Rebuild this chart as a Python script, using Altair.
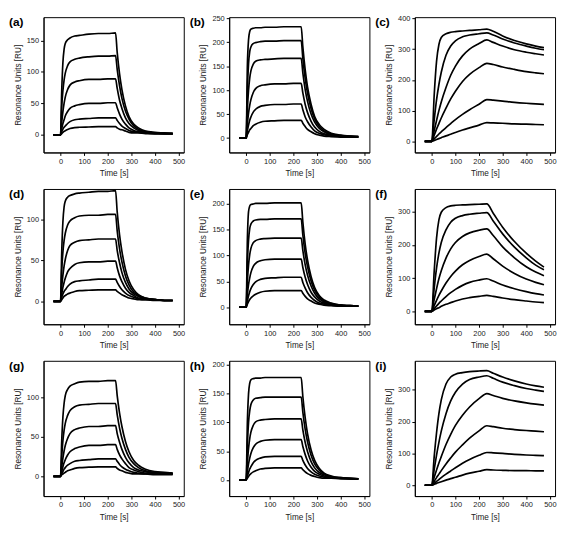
import altair as alt
import pandas as pd

FONT = "Liberation Sans"

# time grids (s)
T_FAST = [-30, 0, 5, 10, 15, 20, 30, 40, 60, 80, 120, 160, 200, 233,
          240, 250, 260, 275, 290, 310, 330, 360, 400, 440, 475]
T_SLOW = [-30, 0, 10, 20, 30, 40, 60, 80, 100, 130, 160, 200, 233,
          260, 300, 350, 400, 440, 475]

X_TICKS = [0, 100, 200, 300, 400, 500]
X_DOMAIN = [-72, 522]

# Resonance units, one list per curve
PANEL_A = [
    [0, 0, 70, 115, 136, 145, 151, 154, 157, 158, 160, 161, 161, 162, 131, 97, 72, 46, 29, 17, 11, 6, 4, 3, 2],
    [0, 0, 45, 70, 87, 98, 110, 116, 120, 122, 124, 125, 125, 126, 104, 78, 58, 38, 25, 14, 9, 5, 3, 2, 2],
    [0, 0, 20, 37, 50, 60, 72, 79, 84, 86, 88, 88, 89, 89, 74, 55, 42, 27, 18, 11, 7, 4, 3, 2, 2],
    [0, 0, 10, 18, 24, 30, 37, 42, 46, 48, 50, 50, 51, 51, 43, 33, 25, 17, 11, 7, 5, 3, 2, 2, 2],
    [0, 0, 5, 9, 12, 14, 18, 21, 24, 25, 26, 27, 27, 27, 23, 18, 14, 10, 7, 5, 4, 3, 2, 2, 2],
    [0, 0, 2, 4, 5.5, 6.5, 8.5, 10, 11.5, 12, 12.5, 13, 13, 13, 11, 9, 8, 6, 4, 3, 3, 2, 2, 2, 2],
]
PANEL_B = [
    [0, 0, 150, 205, 222, 227, 229, 230, 230, 231, 231, 232, 232, 232, 190, 142, 106, 70, 45, 28, 18, 10, 6, 4, 3],
    [0, 0, 100, 155, 180, 190, 197, 199, 201, 202, 202, 203, 203, 203, 166, 124, 93, 61, 40, 24, 15, 9, 5, 4, 3],
    [0, 0, 60, 100, 125, 140, 154, 160, 163, 164, 165, 166, 166, 166, 136, 101, 76, 50, 33, 20, 13, 7, 5, 3, 3],
    [0, 0, 30, 52, 68, 80, 95, 103, 109, 111, 113, 113, 114, 114, 94, 70, 53, 35, 23, 14, 9, 6, 4, 3, 2],
    [0, 0, 15, 27, 37, 44, 54, 60, 66, 68, 70, 70, 71, 71, 59, 44, 34, 23, 15, 10, 7, 4, 3, 2, 2],
    [0, 0, 7, 12, 17, 20, 26, 29, 33, 35, 36, 37, 37, 37, 31, 24, 18, 13, 9, 6, 4, 3, 2, 2, 2],
]
PANEL_C = [
    [0, 0, 150, 260, 315, 338, 350, 355, 357, 359, 361, 363, 365, 358, 343, 328, 317, 310, 305],
    [0, 0, 70, 135, 185, 225, 280, 310, 327, 340, 346, 350, 353, 346, 333, 320, 310, 303, 298],
    [0, 0, 35, 68, 100, 128, 175, 215, 245, 278, 300, 318, 330, 322, 310, 298, 290, 285, 281],
    [0, 0, 20, 40, 58, 76, 108, 138, 163, 195, 218, 240, 254, 250, 242, 234, 227, 223, 220],
    [0, 0, 8, 16, 24, 31, 45, 58, 71, 88, 103, 121, 136, 134, 131, 127, 124, 122, 120],
    [0, 0, 3, 6, 9, 12, 18, 23, 29, 37, 44, 53, 61, 60, 59, 57, 56, 55, 54],
]
PANEL_D = [
    [0, 0, 60, 97, 115, 122, 127, 129, 131, 132, 133, 134, 134, 135, 109, 81, 61, 39, 25, 14, 8, 4, 2, 1, 1],
    [0, 0, 38, 60, 74, 83, 93, 98, 102, 104, 105, 105, 106, 106, 86, 64, 48, 31, 20, 11, 7, 4, 2, 1, 1],
    [0, 0, 18, 32, 43, 51, 62, 68, 72, 74, 75, 76, 76, 76, 62, 47, 35, 23, 15, 9, 6, 3, 2, 1, 1],
    [0, 0, 9, 17, 23, 28, 36, 40, 45, 47, 48, 48, 49, 49, 41, 31, 24, 16, 11, 7, 4, 3, 2, 1, 1],
    [0, 0, 5, 9, 12, 14, 18, 21, 24, 25, 26, 27, 27, 27, 23, 18, 14, 10, 7, 5, 3, 2, 2, 1, 1],
    [0, 0, 2, 4, 6, 7, 9, 10, 12, 13, 13.5, 14, 14, 14, 12, 10, 8, 6, 4, 3, 2, 2, 1, 1, 1],
]
PANEL_E = [
    [0, 0, 130, 185, 196, 199, 200, 201, 201, 201, 202, 202, 202, 202, 165, 122, 91, 59, 38, 22, 14, 8, 4, 3, 2],
    [0, 0, 85, 130, 152, 161, 167, 169, 170, 170, 171, 171, 171, 171, 140, 104, 78, 51, 33, 20, 12, 7, 4, 3, 2],
    [0, 0, 50, 82, 102, 114, 125, 129, 132, 133, 134, 134, 134, 134, 110, 82, 62, 41, 27, 16, 10, 6, 4, 3, 2],
    [0, 0, 25, 44, 57, 67, 79, 85, 90, 92, 93, 93, 93, 93, 77, 58, 44, 29, 20, 12, 8, 5, 3, 2, 2],
    [0, 0, 12, 22, 30, 36, 44, 49, 54, 56, 57, 58, 58, 58, 48, 37, 28, 19, 13, 8, 6, 4, 3, 2, 2],
    [0, 0, 6, 11, 15, 18, 22, 25, 29, 31, 32, 32, 32, 32, 27, 21, 16, 12, 8, 6, 4, 3, 2, 2, 2],
]
PANEL_F = [
    [0, 0, 120, 220, 275, 298, 312, 317, 319, 320, 321, 322, 323, 295, 253, 210, 175, 151, 133],
    [0, 0, 70, 130, 175, 207, 245, 268, 280, 288, 292, 295, 297, 272, 233, 193, 161, 139, 125],
    [0, 0, 35, 68, 98, 122, 160, 188, 207, 225, 236, 244, 248, 228, 194, 161, 134, 118, 107],
    [0, 0, 17, 33, 48, 61, 85, 105, 121, 140, 153, 165, 172, 158, 136, 114, 97, 87, 80],
    [0, 0, 8, 16, 24, 31, 44, 56, 66, 78, 87, 94, 98, 91, 79, 68, 59, 53, 49],
    [0, 0, 4, 8, 11, 15, 21, 26, 31, 37, 41, 45, 48, 45, 40, 35, 31, 28, 26],
]
PANEL_G = [
    [0, 0, 45, 75, 92, 102, 110, 114, 117, 119, 120, 120, 121, 121, 102, 80, 63, 44, 31, 20, 14, 9, 6, 5, 4],
    [0, 0, 25, 45, 58, 67, 77, 83, 88, 90, 91, 92, 92, 92, 78, 61, 48, 34, 24, 16, 11, 7, 5, 4, 4],
    [0, 0, 12, 23, 32, 39, 48, 54, 59, 61, 63, 63, 64, 64, 54, 43, 34, 24, 17, 11, 8, 6, 4, 4, 3],
    [0, 0, 6, 12, 17, 21, 27, 31, 35, 37, 39, 39, 40, 40, 34, 27, 22, 16, 11, 8, 6, 4, 4, 3, 3],
    [0, 0, 3, 6, 9, 11, 14, 16, 19, 20, 21, 22, 22, 22, 19, 15, 12, 9, 7, 5, 4, 3, 3, 3, 3],
    [0, 0, 2, 3, 4, 5, 7, 8, 10, 11, 11.5, 12, 12, 12, 10, 8, 7, 5, 4, 3, 3, 3, 2, 2, 2],
]
PANEL_H = [
    [0, 0, 100, 150, 168, 174, 176, 177, 177, 178, 178, 178, 178, 178, 145, 108, 80, 52, 34, 20, 12, 7, 4, 3, 2],
    [0, 0, 60, 100, 120, 131, 139, 142, 143, 144, 144, 144, 144, 144, 118, 88, 66, 43, 28, 17, 11, 6, 4, 3, 2],
    [0, 0, 30, 55, 72, 83, 95, 101, 104, 105, 106, 106, 106, 106, 87, 65, 49, 32, 21, 13, 9, 5, 3, 3, 2],
    [0, 0, 15, 28, 38, 46, 56, 62, 67, 69, 70, 70, 70, 70, 58, 44, 33, 22, 15, 10, 7, 4, 3, 2, 2],
    [0, 0, 7, 13, 19, 23, 30, 34, 38, 40, 41, 41, 41, 41, 34, 26, 20, 14, 10, 7, 5, 3, 3, 2, 2],
    [0, 0, 3, 6, 9, 11, 14, 16, 19, 20, 21, 21, 21, 21, 18, 14, 11, 8, 6, 4, 3, 3, 2, 2, 2],
]
PANEL_I = [
    [0, 0, 90, 165, 225, 268, 318, 340, 349, 354, 357, 359, 360, 352, 340, 328, 318, 312, 308],
    [0, 0, 50, 95, 135, 170, 225, 265, 292, 318, 332, 340, 344, 336, 324, 313, 304, 299, 295],
    [0, 0, 25, 48, 70, 90, 128, 160, 188, 220, 246, 272, 288, 282, 273, 265, 259, 255, 252],
    [0, 0, 12, 24, 35, 46, 67, 86, 104, 127, 148, 171, 187, 184, 179, 175, 172, 170, 168],
    [0, 0, 6, 12, 18, 24, 35, 45, 55, 69, 81, 94, 103, 102, 100, 97, 95, 94, 93],
    [0, 0, 3, 6, 8.5, 11, 16, 21, 25, 32, 38, 44, 49, 48, 47, 46, 46, 45, 45],
]

LABELS = ["(a)", "(b)", "(c)", "(d)", "(e)", "(f)", "(g)", "(h)", "(i)"]
Y_DOMAINS = [[-28, 187], [-30, 252], [-36, 404],
             [-28, 137], [-33, 229], [-39, 368],
             [-25, 146], [-28, 207], [-34, 391]]
Y_TICKS = [[0, 50, 100, 150], [0, 50, 100, 150, 200, 250], [0, 100, 200, 300, 400],
           [0, 50, 100], [0, 50, 100, 150, 200], [0, 100, 200, 300],
           [0, 50, 100], [0, 50, 100, 150, 200], [0, 100, 200, 300]]

PANELS = [PANEL_A, PANEL_B, PANEL_C, PANEL_D, PANEL_E, PANEL_F, PANEL_G, PANEL_H, PANEL_I]
TIMES = [T_FAST, T_FAST, T_SLOW] * 3

W, H = 142, 137
LABEL_DX = [-35, -40, -40] * 3


def panel(idx):
    rows = []
    for k, vals in enumerate(PANELS[idx]):
        for t, v in zip(TIMES[idx], vals):
            rows.append({"curve": k, "t": t, "ru": v})
    df = pd.DataFrame(rows)
    lines = alt.Chart(df).mark_line(
        color="black", strokeWidth=1.7, interpolate="monotone", clip=True
    ).encode(
        x=alt.X("t:Q", scale=alt.Scale(domain=X_DOMAIN, nice=False, zero=False),
                axis=alt.Axis(values=X_TICKS, title="Time [s]")),
        y=alt.Y("ru:Q", scale=alt.Scale(domain=Y_DOMAINS[idx], nice=False, zero=False),
                axis=alt.Axis(values=Y_TICKS[idx], title="Resonance Units [RU]")),
        detail="curve:N",
    )
    lab = alt.Chart(pd.DataFrame({"s": [LABELS[idx]]})).mark_text(
        align="left", baseline="middle", fontWeight="bold", fontSize=12, font=FONT, color="black"
    ).encode(x=alt.value(LABEL_DX[idx]), y=alt.value(5), text="s:N")
    return alt.layer(lines, lab).properties(width=W, height=H)


chart = alt.concat(
    *[panel(i) for i in range(9)],
    columns=3,
    spacing=alt.RowColnumber(row=37, column=46),
    bounds="flush",
).properties(
    padding={"left": 0, "top": 2, "right": 2, "bottom": 0}
).configure_view(stroke="black", strokeWidth=1).configure_axis(
    grid=False, domainColor="black", tickColor="black", tickSize=3,
    labelFont=FONT, titleFont=FONT, labelFontSize=7.5, titleFontSize=8.3,
    titleFontWeight="normal", labelColor="#222", titleColor="#222",
    labelPadding=2, titlePadding=4,
)

chart.save("out.html", embed_options={"renderer": "svg", "actions": False})
